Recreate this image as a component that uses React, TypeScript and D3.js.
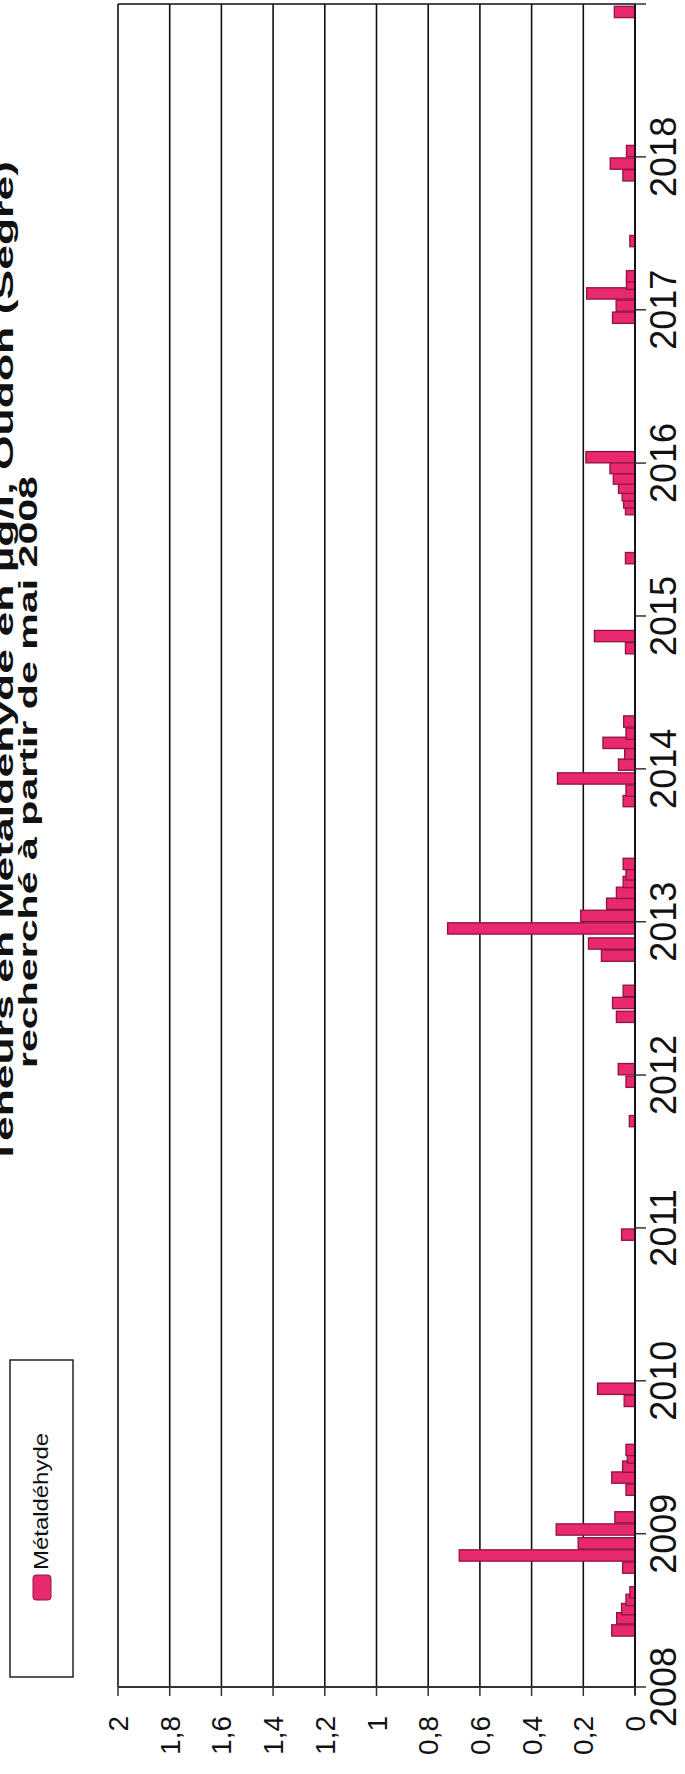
import React from "react";
import * as d3 from "d3";

// ---- data ----
const sampleDates: string[] = [
  "2008-05-15", "2008-06-13", "2008-07-05", "2008-07-27", "2008-08-14",
  "2008-10-12", "2008-11-10", "2008-12-09", "2009-01-11", "2009-02-09",
  "2009-04-16", "2009-05-15", "2009-06-10", "2009-07-02", "2009-07-20",
  "2009-11-14", "2009-12-13", "2010-12-16", "2011-09-13", "2011-12-16",
  "2012-01-15", "2012-05-19", "2012-06-21", "2012-07-20", "2012-10-12",
  "2012-11-10", "2012-12-16", "2013-01-15", "2013-02-13", "2013-03-11",
  "2013-04-06", "2013-04-24", "2013-05-19", "2013-10-16", "2013-11-10",
  "2013-12-09", "2014-01-11", "2014-02-06", "2014-03-04", "2014-03-26",
  "2014-04-24", "2014-10-16", "2014-11-14", "2015-05-19", "2015-09-13",
  "2015-09-29", "2015-10-16", "2015-11-03", "2015-11-25", "2015-12-20",
  "2016-01-15", "2016-12-13", "2017-01-11", "2017-02-09", "2017-03-04",
  "2017-03-22", "2017-06-14", "2017-11-18", "2017-12-16", "2018-01-15",
  "2018-12-13",
];
const metaldehyde: number[] = [
  0.09, 0.071, 0.052, 0.035, 0.02,
  0.048, 0.68, 0.22, 0.305, 0.078,
  0.035, 0.09, 0.048, 0.03, 0.035,
  0.042, 0.145, 0.052, 0.022, 0.035,
  0.065, 0.072, 0.087, 0.046, 0.13,
  0.18, 0.725, 0.21, 0.11, 0.072,
  0.046, 0.035, 0.046, 0.046, 0.035,
  0.3, 0.064, 0.04, 0.124, 0.035,
  0.044, 0.037, 0.157, 0.037, 0.037,
  0.044, 0.05, 0.064, 0.084, 0.097,
  0.19, 0.087, 0.073, 0.187, 0.033,
  0.033, 0.02, 0.047, 0.096, 0.033,
  0.08,
];
const yearTicks: number[] = [2008, 2009, 2010, 2011, 2012, 2013, 2014, 2015, 2016, 2017, 2018, 2019];
const yearLabels: number[] = [2008, 2009, 2010, 2011, 2012, 2013, 2014, 2015, 2016, 2017, 2018];
const valueTicks: number[] = [0, 0.2, 0.4, 0.6, 0.8, 1, 1.2, 1.4, 1.6, 1.8, 2];
const titleLine1 = "Teneurs en Métaldéhyde en µg/l, Oudon (Segré)";
const titleLine2 = "recherché à partir de mai 2008";
const seriesName = "Métaldéhyde";

const FONT = "'Liberation Sans', Arial, Helvetica, sans-serif";
const PINK = "#E8286F";
const PINK_EDGE = "#8E1442";

export default function App() {
  const W = 685;
  const H = 1774;
  const parse = d3.timeParse("%Y-%m-%d");
  const x = d3.scaleLinear().domain([0, 2]).range([635, 118]);
  const y = d3
    .scaleTime()
    .domain([new Date(2008, 0, 1), new Date(2019, 0, 1)])
    .range([1687, 4]);
  const fmt = (v: number) => String(+v.toFixed(1)).replace(".", ",");
  const halfDays = 13.5;
  const bars = sampleDates.map((s, i) => {
    const d = parse(s) as Date;
    const d0 = d3.timeHour.offset(d, -halfDays * 24);
    const d1 = d3.timeHour.offset(d, halfDays * 24);
    return { d0, d1, v: metaldehyde[i] };
  });
  const x0 = x(0);
  const x2 = x(2);
  const yBottom = y.range()[0];
  const yTop = y.range()[1];

  return (
    <svg
      width={W}
      height={H}
      viewBox={`0 0 ${W} ${H}`}
      style={{ position: "absolute", left: 0, top: 0, background: "#fff" }}
      fontFamily={FONT}
    >
      <rect x={0} y={0} width={W} height={H} fill="#fff" />
      {/* title (rotated) */}
      <text
        transform={`translate(13,663) rotate(-90)`}
        textAnchor="middle"
        fontWeight="bold"
        fontSize={26}
        textLength={1004}
        lengthAdjust="spacingAndGlyphs"
        fill="#111"
      >
        {titleLine1}
      </text>
      <text
        transform={`translate(37,772) rotate(-90)`}
        textAnchor="middle"
        fontWeight="bold"
        fontSize={26}
        textLength={592}
        lengthAdjust="spacingAndGlyphs"
        fill="#111"
      >
        {titleLine2}
      </text>

      {/* legend */}
      <rect x={10} y={1360} width={63} height={317} fill="#fff" stroke="#222" strokeWidth={1.5} />
      <rect x={33} y={1575} width={18} height={25} rx={3} fill={PINK} stroke={PINK_EDGE} strokeWidth={1} />
      <text
        transform={`translate(48,1570) rotate(-90)`}
        textAnchor="start"
        fontSize={21}
        textLength={137}
        lengthAdjust="spacingAndGlyphs"
        fill="#111"
      >
        {seriesName}
      </text>

      {/* gridlines */}
      {valueTicks.map((v) => (
        <line key={"g" + v} x1={x(v)} x2={x(v)} y1={yTop} y2={yBottom} stroke="#111" strokeWidth={1.6} />
      ))}
      {/* top border */}
      <line x1={x2} x2={x0} y1={yTop} y2={yTop} stroke="#111" strokeWidth={1.6} />

      {/* bars */}
      {bars.map((b, i) => (
        <rect
          key={"b" + i}
          x={x(b.v)}
          y={y(b.d1)}
          width={x0 - x(b.v)}
          height={y(b.d0) - y(b.d1)}
          fill={PINK}
          stroke={PINK_EDGE}
          strokeWidth={1.3}
        />
      ))}

      {/* axes */}
      <line x1={x2} x2={x0} y1={yBottom} y2={yBottom} stroke="#333" strokeWidth={1.8} />
      <line x1={x0} x2={x0} y1={yTop} y2={yBottom + 8} stroke="#111" strokeWidth={1.8} />
      {valueTicks.map((v) => (
        <line key={"vt" + v} x1={x(v)} x2={x(v)} y1={yBottom} y2={yBottom + 9} stroke="#333" strokeWidth={1.5} />
      ))}
      {yearTicks.map((yr) => (
        <line
          key={"yt" + yr}
          x1={x0}
          x2={x0 + 11}
          y1={y(new Date(yr, 0, 1))}
          y2={y(new Date(yr, 0, 1))}
          stroke="#333"
          strokeWidth={1.5}
        />
      ))}
      {yearLabels.map((yr) => (
        <text
          key={"yl" + yr}
          transform={`translate(676,${y(new Date(yr, 0, 1))}) rotate(-90)`}
          textAnchor="middle"
          fontSize={36}
          fill="#111"
        >
          {yr}
        </text>
      ))}
      {valueTicks.map((v) => (
        <text
          key={"vl" + v}
          transform={`translate(${x(v) + 10},1716) rotate(-90)`}
          textAnchor="end"
          fontSize={28}
          fill="#111"
        >
          {fmt(v)}
        </text>
      ))}
    </svg>
  );
}
